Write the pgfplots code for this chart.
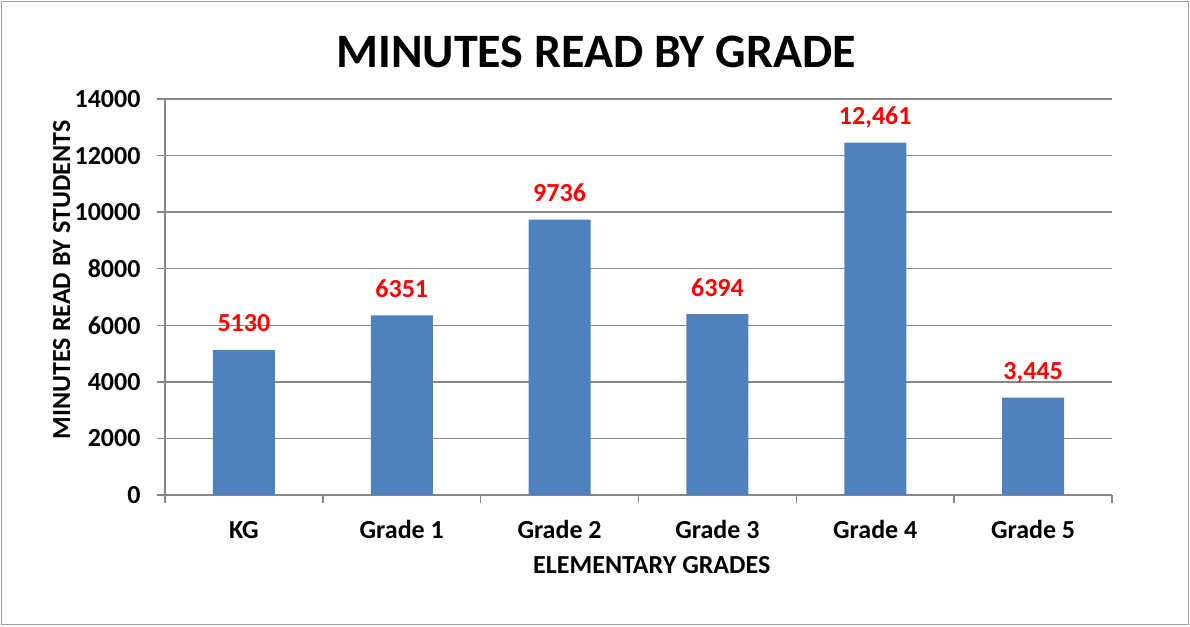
\documentclass[border=0pt]{standalone}
\usepackage{fontspec}
\setmainfont{Carlito}
\usepackage{pgfplots}
\pgfplotsset{compat=1.18}
\definecolor{barblue}{HTML}{4F81BD}
\definecolor{gridgray}{HTML}{868686}
\begin{document}
\begin{tikzpicture}[x=1pt,y=1pt]
\path[use as bounding box] (0,0) rectangle (1190,626);
\draw[gridgray!80, line width=1.5pt] (1.5,1.5) rectangle (1188.5,624.5);
\node[anchor=base, font=\fontsize{48}{52}\selectfont\bfseries] at (596,558) {MINUTES READ BY GRADE};
\begin{axis}[
  at={(165pt,131pt)}, anchor=south west,
  scale only axis, width=947pt, height=396pt,
  xmin=-0.5, xmax=5.5, ymin=0, ymax=14000,
  axis x line*=bottom, axis y line*=left,
  axis line style={gridgray, line width=1.5pt},
  ymajorgrids, grid style={gridgray, line width=1.5pt},
  xtick={0,...,5},
  xticklabels={KG,Grade 1,Grade 2,Grade 3,Grade 4,Grade 5},
  minor xtick={-0.5,0.5,...,5.5},
  ytick={0,2000,...,14000},
  scaled y ticks=false,
  tick align=outside, major tick length=8pt, minor tick length=8pt,
  tick style={gridgray, line width=1.5pt},
  major x tick style={draw=none},
  /pgf/number format/assume math mode=true,
  /pgf/number format/1000 sep={},
  ticklabel style={font=\fontsize{26}{30}\selectfont\bfseries},
  xticklabel style={anchor=base, yshift=-35pt},
  yticklabel style={xshift=-13pt},
  xlabel={ELEMENTARY GRADES},
  ylabel={MINUTES READ BY STUDENTS},
  label style={font=\fontsize{26}{30}\selectfont\bfseries},
  xlabel style={at={(axis description cs:0.514,0)}, anchor=base, yshift=-78pt},
  ylabel style={at={(axis description cs:-0.1003,0.543)}, anchor=base},
]
\addplot[ybar, bar width=62pt, fill=barblue, draw=none,
  nodes near coords, point meta=explicit symbolic,
  nodes near coords style={anchor=base, yshift=18pt, text=red, font=\fontsize{26}{30}\selectfont\bfseries}]
  table[meta=label] {
x y label
0 5130 5130
1 6351 6351
2 9736 9736
3 6394 6394
4 12461 12,461
5 3445 3,445
};
\end{axis}
\end{tikzpicture}
\end{document}
